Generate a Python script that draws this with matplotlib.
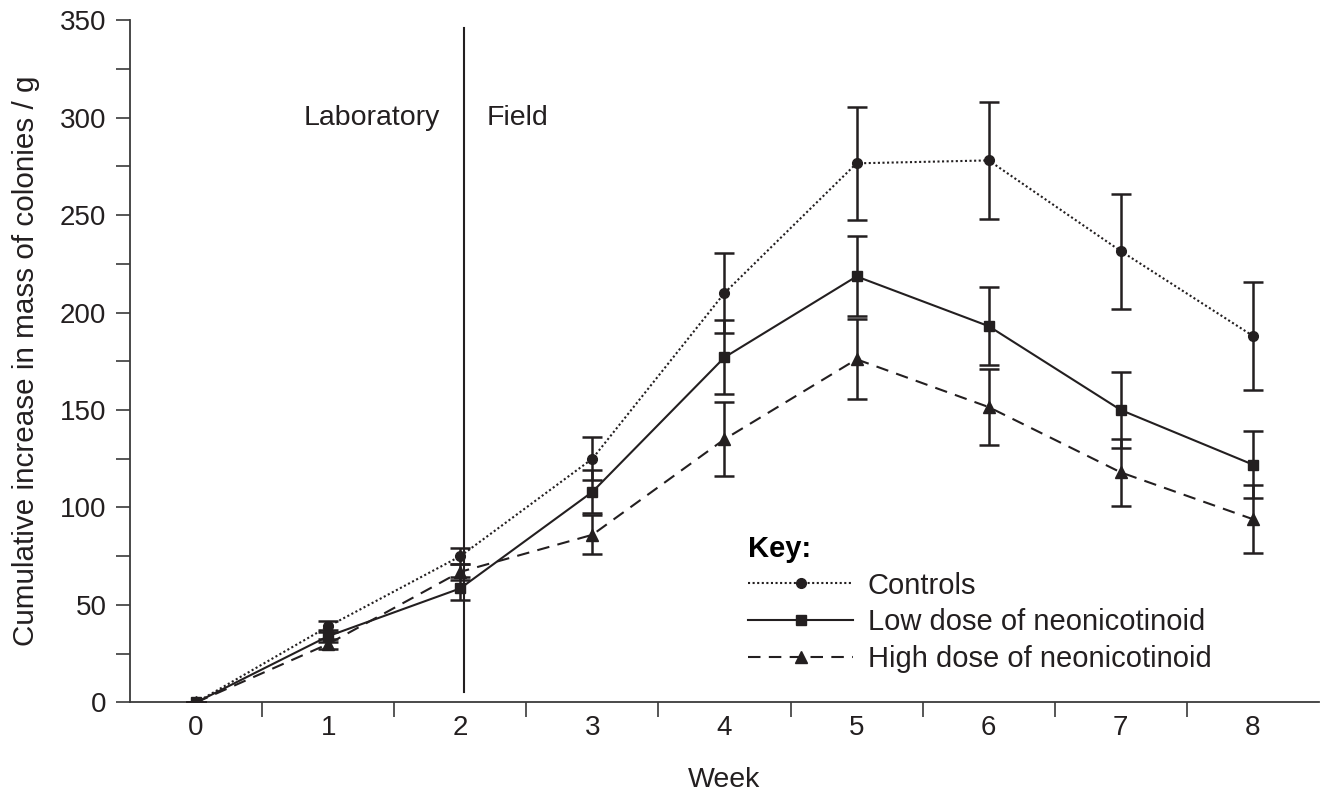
import numpy as np
import matplotlib.pyplot as plt
from matplotlib.ticker import MultipleLocator, FixedLocator

plt.rcParams['font.family'] = ['Liberation Sans', 'DejaVu Sans']

weeks = [0, 1, 2, 3, 4, 5, 6, 7, 8]
controls = [0, 39, 75, 125, 210, 276.5, 278, 231.5, 188]
controls_err = [0, 3, 4, 11, 20.5, 29, 30, 29.5, 27.5]
low_dose = [0, 34, 58.5, 108, 177, 218.5, 193, 150, 122]
low_err = [0, 3, 6, 11, 19, 20.5, 20, 19.5, 17]
high_dose = [0, 30, 67, 86, 135, 176, 151.5, 118, 94]
high_err = [0, 2.5, 4, 10, 19, 20.5, 19.5, 17, 17.5]

labels = ["Controls", "Low dose of neonicotinoid", "High dose of neonicotinoid"]
ink = "#231f20"

fig = plt.figure(figsize=(13.32, 7.91), dpi=100)
ax = fig.add_axes([0.0976, 0.1119, 0.8926, 0.8628])

styles = [
    (controls, controls_err, (0, (1, 1.2)), "o", 7),
    (low_dose, low_err, "-", "s", 6.5),
    (high_dose, high_err, (0, (6, 4)), "^", 8),
]
handles = []
for (vals, err, ls, mk, ms), lab in zip(styles, labels):
    eb = ax.errorbar(weeks, vals, yerr=err, color=ink, ls=ls, lw=1.5,
                     marker=mk, ms=ms, elinewidth=1.8, capsize=7, capthick=1.8,
                     label=lab, zorder=3)
    handles.append(eb[0])

# boundary between laboratory and field phases
ax.plot([2.03, 2.03], [5.5, 346], color=ink, lw=1.5, zorder=2)
ax.text(1.85, 300, "Laboratory", ha="right", va="center", fontsize=20.5, color=ink)
ax.text(2.2, 300, "Field", ha="left", va="center", fontsize=20.5, color=ink)

ax.set_xlim(-0.5, 8.5)
ax.set_ylim(0, 350)
for s in ["top", "right"]:
    ax.spines[s].set_visible(False)
for s in ["left", "bottom"]:
    ax.spines[s].set_color("#3a3a3a")
    ax.spines[s].set_linewidth(1.3)

ax.set_xticks(weeks)
ax.xaxis.set_minor_locator(FixedLocator(np.arange(0.5, 8.5, 1)))
ax.tick_params(axis="x", which="major", length=0, pad=9, labelsize=20, colors=ink)
ax.tick_params(axis="x", which="minor", length=11, width=1.2, color="#3a3a3a")
ax.yaxis.set_major_locator(MultipleLocator(50))
ax.yaxis.set_minor_locator(MultipleLocator(25))
ax.tick_params(axis="y", which="both", length=10, width=1.2, color="#3a3a3a")
ax.tick_params(axis="y", which="major", pad=7, labelsize=20, labelcolor=ink)

ax.set_xlabel("Week", fontsize=20.5, color=ink)
ax.xaxis.set_label_coords(0.5, -0.0945)
ax.set_ylabel("Cumulative increase in mass of colonies / g", fontsize=21.3, color=ink, labelpad=14)

leg = ax.legend(handles=handles, labels=labels, title="Key:", loc="upper left",
                bbox_to_anchor=(4.18, 86), bbox_transform=ax.transData,
                frameon=False, fontsize=21, handlelength=3.6, handletextpad=0.5,
                labelspacing=0.3, borderpad=0, borderaxespad=0,
                title_fontproperties={"weight": "bold", "size": 21})
leg._legend_box.align = "left"
for t in leg.get_texts():
    t.set_color(ink)

fig.savefig("out.png", dpi=100)
